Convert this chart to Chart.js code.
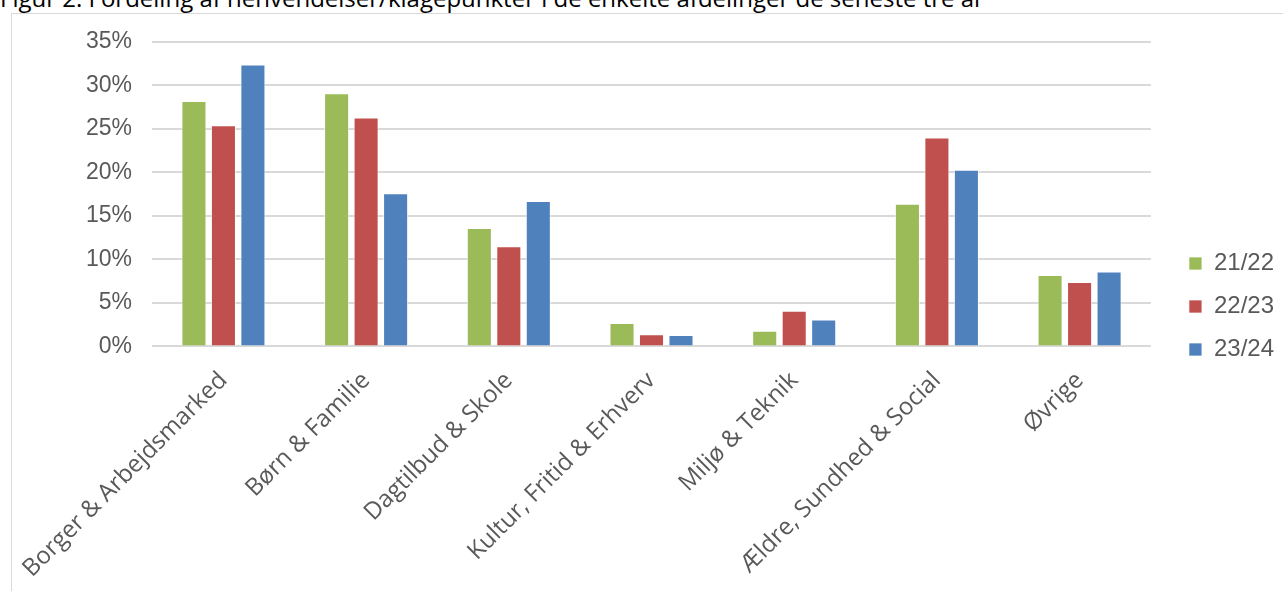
<!DOCTYPE html>
<html>
<head>
<meta charset="utf-8">
<script src="https://cdn.jsdelivr.net/npm/chart.js@4"></script>
<style>
  body { margin: 0; background: #fff; width: 1283px; height: 591px; overflow: hidden; position: relative; }
  #title { position: absolute; left: 0; top: -19px; font-family: "Open Sans", sans-serif; font-size: 24px; line-height: normal; color: #000; white-space: nowrap; }
  #frame { position: absolute; left: 11px; top: 13px; width: 1272px; height: 581px; border-left: 1px solid #d9d9d9; border-top: 1px solid #d9d9d9; background: #fff; }
  #myChart { position: absolute; left: 7px; top: 8px; }
</style>
</head>
<body>
<div id="title">Figur 2. Fordeling af henvendelser/klagepunkter i de enkelte afdelinger de seneste tre år</div>
<div id="frame"></div>
<canvas id="myChart" width="1276" height="587"></canvas>
<script>
const categories = ['Borger & Arbejdsmarked', 'Børn & Familie', 'Dagtilbud & Skole', 'Kultur, Fritid & Erhverv', 'Miljø & Teknik', 'Ældre, Sundhed & Social', 'Øvrige'];
const seriesNames = ['21/22', '22/23', '23/24'];
const values2122 = [28.2, 29.1, 13.6, 2.7, 1.8, 16.4, 8.2];
const values2223 = [25.4, 26.3, 11.5, 1.4, 4.1, 24.0, 7.4];
const values2324 = [32.4, 17.6, 16.7, 1.3, 3.1, 20.3, 8.6];
const yTicks = [0, 5, 10, 15, 20, 25, 30, 35];

const colors = ['#9BBB59', '#C0504D', '#4F81BD'];

// nudge the legend to the right of its layout box (Excel puts it closer to the edge)
const legendShift = {
    id: 'legendShift',
    afterInit: chart => {
        const lg = chart.legend;
        if (!lg) return;
        const orig = lg.draw.bind(lg);
        lg.draw = function () {
            chart.ctx.save();
            chart.ctx.translate(19, 5);
            orig();
            chart.ctx.restore();
        };
    }
};

const renderChart = () => {
    var ctx = document.getElementById('myChart').getContext('2d');
    new Chart(ctx, {
        type: 'bar',
        data: {
            labels: categories,
            datasets: [values2122, values2223, values2324].map((vals, i) => ({
                label: seriesNames[i],
                data: vals,
                backgroundColor: colors[i],
                borderColor: 'rgba(255,255,255,0.7)',
                borderWidth: 1,
                categoryPercentage: 0.62,
                barPercentage: 0.85
            }))
        },
        options: {
            responsive: false,
            animation: false,
            devicePixelRatio: 1,
            layout: { padding: { top: 0, right: 18, left: 29, bottom: 0 } },
            scales: {
                y: {
                    min: yTicks[0],
                    max: yTicks[yTicks.length - 1],
                    afterBuildTicks: axis => { axis.ticks = yTicks.map(v => ({ value: v })); },
                    ticks: {
                        callback: v => v + '%',
                        font: { family: 'Liberation Sans', size: 23 },
                        color: '#595959',
                        padding: 20
                    },
                    grid: { color: '#d9d9d9', lineWidth: 2, drawTicks: false },
                    border: { display: false }
                },
                x: {
                    grid: { display: false },
                    border: { display: false },
                    ticks: {
                        maxRotation: 45,
                        minRotation: 45,
                        font: { family: 'Open Sans', size: 24 },
                        color: '#595959',
                        padding: 12
                    }
                }
            },
            plugins: {
                legend: {
                    position: 'right',
                    labels: {
                        boxWidth: 13,
                        boxHeight: 13,
                        padding: 19,
                        color: '#595959',
                        font: { family: 'Liberation Sans', size: 24 }
                    }
                },
                tooltip: { enabled: false }
            }
        },
        plugins: [legendShift]
    });
};

renderChart();
</script>
</body>
</html>
